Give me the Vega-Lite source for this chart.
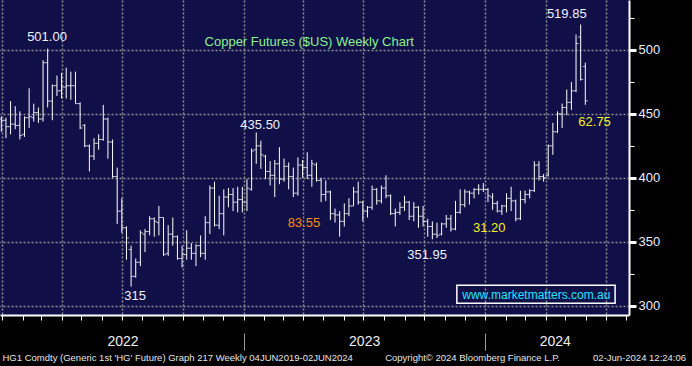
{
"$schema":"https://vega.github.io/schema/vega-lite/v6.json",
"width":629,"height":315,
"autosize":{"type":"none"},
"padding":{"left":0,"top":0,"right":63,"bottom":51},
"background":"#000000",
"view":{"fill":"#100f47","stroke":null},
"config":{"axis":{"labelFont":"Liberation Sans","title":null},"text":{"font":"Liberation Sans"}},
"datasets":{
"bars":[
{"d":"2021-12-31","o":446,"h":448,"l":436,"c":445},
{"d":"2022-01-07","o":445,"h":447,"l":431,"c":440},
{"d":"2022-01-14","o":440,"h":460,"l":434,"c":442},
{"d":"2022-01-21","o":442,"h":456,"l":438,"c":441},
{"d":"2022-01-28","o":441,"h":452,"l":430,"c":433},
{"d":"2022-02-04","o":434,"h":448,"l":432,"c":447},
{"d":"2022-02-11","o":447,"h":470,"l":439,"c":448},
{"d":"2022-02-18","o":447,"h":458,"l":444,"c":451},
{"d":"2022-02-25","o":451,"h":455,"l":443,"c":446},
{"d":"2022-03-04","o":446,"h":492,"l":444,"c":490},
{"d":"2022-03-11","o":490,"h":501,"l":455,"c":460},
{"d":"2022-03-18","o":460,"h":473,"l":445,"c":472},
{"d":"2022-03-25","o":472,"h":480,"l":464,"c":468},
{"d":"2022-04-01","o":468,"h":482,"l":462,"c":471},
{"d":"2022-04-08","o":471,"h":486,"l":462,"c":472},
{"d":"2022-04-15","o":472,"h":483,"l":461,"c":472},
{"d":"2022-04-22","o":472,"h":483,"l":458,"c":458},
{"d":"2022-04-29","o":458,"h":459,"l":438,"c":439},
{"d":"2022-05-06","o":441,"h":442,"l":424,"c":425},
{"d":"2022-05-13","o":425,"h":426,"l":405,"c":417},
{"d":"2022-05-20","o":417,"h":431,"l":414,"c":427},
{"d":"2022-05-27","o":427,"h":434,"l":422,"c":430},
{"d":"2022-06-03","o":430,"h":457,"l":429,"c":446},
{"d":"2022-06-10","o":446,"h":447,"l":415,"c":428},
{"d":"2022-06-17","o":428,"h":430,"l":400,"c":401},
{"d":"2022-06-24","o":401,"h":408,"l":364,"c":374},
{"d":"2022-07-01","o":374,"h":384,"l":357,"c":361},
{"d":"2022-07-08","o":361,"h":362,"l":336,"c":353},
{"d":"2022-07-15","o":344,"h":347,"l":315,"c":323},
{"d":"2022-07-22","o":323,"h":337,"l":322,"c":334},
{"d":"2022-07-29","o":334,"h":359,"l":331,"c":357},
{"d":"2022-08-05","o":356,"h":360,"l":342,"c":358},
{"d":"2022-08-12","o":358,"h":370,"l":355,"c":368},
{"d":"2022-08-19","o":368,"h":369,"l":354,"c":366},
{"d":"2022-08-26","o":365,"h":378,"l":355,"c":369},
{"d":"2022-09-02","o":369,"h":369,"l":339,"c":340},
{"d":"2022-09-09","o":341,"h":363,"l":339,"c":356},
{"d":"2022-09-16","o":356,"h":369,"l":347,"c":354},
{"d":"2022-09-23","o":354,"h":355,"l":336,"c":337},
{"d":"2022-09-30","o":337,"h":347,"l":330,"c":340},
{"d":"2022-10-07","o":340,"h":359,"l":336,"c":345},
{"d":"2022-10-14","o":345,"h":349,"l":336,"c":341},
{"d":"2022-10-21","o":341,"h":348,"l":331,"c":347},
{"d":"2022-10-28","o":347,"h":355,"l":338,"c":341},
{"d":"2022-11-04","o":341,"h":370,"l":336,"c":365},
{"d":"2022-11-11","o":365,"h":394,"l":356,"c":392},
{"d":"2022-11-18","o":392,"h":397,"l":362,"c":363},
{"d":"2022-11-25","o":363,"h":386,"l":360,"c":372},
{"d":"2022-12-02","o":372,"h":391,"l":355,"c":385},
{"d":"2022-12-09","o":385,"h":392,"l":377,"c":387},
{"d":"2022-12-16","o":387,"h":392,"l":374,"c":381},
{"d":"2022-12-23","o":381,"h":393,"l":373,"c":383},
{"d":"2022-12-30","o":383,"h":393,"l":373,"c":381},
{"d":"2023-01-06","o":381,"h":399,"l":374,"c":392},
{"d":"2023-01-13","o":391,"h":423,"l":390,"c":421},
{"d":"2023-01-20","o":422,"h":435.5,"l":411,"c":425},
{"d":"2023-01-27","o":425,"h":429,"l":407,"c":418},
{"d":"2023-02-03","o":417,"h":418,"l":399,"c":405},
{"d":"2023-02-10","o":405,"h":413,"l":394,"c":402},
{"d":"2023-02-17","o":402,"h":414,"l":385,"c":411},
{"d":"2023-02-24","o":411,"h":424,"l":395,"c":399},
{"d":"2023-03-03","o":399,"h":415,"l":397,"c":409},
{"d":"2023-03-10","o":409,"h":412,"l":391,"c":401},
{"d":"2023-03-17","o":401,"h":408,"l":385,"c":388},
{"d":"2023-03-24","o":388,"h":416,"l":386,"c":410},
{"d":"2023-03-31","o":410,"h":414,"l":400,"c":408},
{"d":"2023-04-07","o":408,"h":420,"l":399,"c":402},
{"d":"2023-04-14","o":402,"h":414,"l":393,"c":411},
{"d":"2023-04-21","o":410,"h":412,"l":397,"c":398},
{"d":"2023-04-28","o":398,"h":400,"l":381,"c":387},
{"d":"2023-05-05","o":387,"h":398,"l":382,"c":389},
{"d":"2023-05-12","o":389,"h":390,"l":367,"c":372},
{"d":"2023-05-19","o":372,"h":376,"l":365,"c":371},
{"d":"2023-05-26","o":371,"h":374,"l":354,"c":366},
{"d":"2023-06-02","o":366,"h":380,"l":362,"c":372},
{"d":"2023-06-09","o":372,"h":384,"l":370,"c":378},
{"d":"2023-06-16","o":378,"h":393,"l":378,"c":389},
{"d":"2023-06-23","o":389,"h":397,"l":379,"c":381},
{"d":"2023-06-30","o":381,"h":382,"l":366,"c":374},
{"d":"2023-07-07","o":374,"h":378,"l":369,"c":377},
{"d":"2023-07-14","o":377,"h":394,"l":375,"c":391},
{"d":"2023-07-21","o":391,"h":392,"l":379,"c":382},
{"d":"2023-07-28","o":382,"h":394,"l":380,"c":392},
{"d":"2023-08-04","o":392,"h":402,"l":384,"c":386},
{"d":"2023-08-11","o":386,"h":387,"l":371,"c":372},
{"d":"2023-08-18","o":372,"h":376,"l":362,"c":373},
{"d":"2023-08-25","o":373,"h":381,"l":371,"c":377},
{"d":"2023-09-01","o":377,"h":386,"l":374,"c":381},
{"d":"2023-09-08","o":381,"h":382,"l":367,"c":370},
{"d":"2023-09-15","o":370,"h":381,"l":366,"c":377},
{"d":"2023-09-22","o":377,"h":378,"l":361,"c":370},
{"d":"2023-09-29","o":370,"h":378,"l":362,"c":366},
{"d":"2023-10-06","o":366,"h":368,"l":354,"c":362},
{"d":"2023-10-13","o":362,"h":366,"l":351.95,"c":356},
{"d":"2023-10-20","o":356,"h":365,"l":353,"c":355},
{"d":"2023-10-27","o":356,"h":365,"l":355,"c":364},
{"d":"2023-11-03","o":364,"h":371,"l":361,"c":368},
{"d":"2023-11-10","o":368,"h":371,"l":358,"c":360},
{"d":"2023-11-17","o":360,"h":382,"l":359,"c":373},
{"d":"2023-11-24","o":373,"h":391,"l":372,"c":379},
{"d":"2023-12-01","o":379,"h":391,"l":377,"c":389},
{"d":"2023-12-08","o":389,"h":390,"l":379,"c":388},
{"d":"2023-12-15","o":388,"h":392,"l":384,"c":391},
{"d":"2023-12-22","o":391,"h":395,"l":387,"c":391},
{"d":"2023-12-29","o":391,"h":396,"l":389,"c":391},
{"d":"2024-01-05","o":391,"h":392,"l":381,"c":386},
{"d":"2024-01-12","o":385,"h":388,"l":375,"c":380},
{"d":"2024-01-19","o":380,"h":382,"l":373,"c":374},
{"d":"2024-01-26","o":374,"h":379,"l":371,"c":378},
{"d":"2024-02-02","o":378,"h":388,"l":373,"c":384},
{"d":"2024-02-09","o":384,"h":393,"l":374,"c":382},
{"d":"2024-02-16","o":382,"h":383,"l":366,"c":368},
{"d":"2024-02-23","o":368,"h":390,"l":367,"c":383},
{"d":"2024-03-01","o":383,"h":390,"l":380,"c":387},
{"d":"2024-03-08","o":387,"h":391,"l":384,"c":390},
{"d":"2024-03-15","o":390,"h":413,"l":389,"c":410},
{"d":"2024-03-22","o":410,"h":413,"l":398,"c":401},
{"d":"2024-03-29","o":401,"h":403,"l":397,"c":400},
{"d":"2024-04-05","o":402,"h":426,"l":401,"c":425},
{"d":"2024-04-12","o":425,"h":443,"l":418,"c":436},
{"d":"2024-04-19","o":436,"h":452,"l":435,"c":450},
{"d":"2024-04-26","o":450,"h":458,"l":439,"c":455},
{"d":"2024-05-03","o":455,"h":469,"l":449,"c":459},
{"d":"2024-05-10","o":459,"h":475,"l":453,"c":468},
{"d":"2024-05-17","o":468,"h":512,"l":467,"c":505},
{"d":"2024-05-24","o":510,"h":519.85,"l":476,"c":477},
{"d":"2024-05-31","o":487,"h":490,"l":457.1,"c":460.2}
],
"notes":[
{"d":"2022-03-10","p":510.2,"t":"501.00","k":"extreme"},
{"d":"2022-07-21","p":307.6,"t":"315","k":"extreme"},
{"d":"2023-01-26","p":441.3,"t":"435.50","k":"extreme"},
{"d":"2023-04-02","p":364.5,"t":"83.55","k":"swing"},
{"d":"2023-10-05","p":339.7,"t":"351.95","k":"extreme"},
{"d":"2024-01-07","p":360.6,"t":"31.20","k":"move"},
{"d":"2024-05-03","p":527.8,"t":"519.85","k":"extreme"},
{"d":"2024-06-14","p":443.9,"t":"62.75","k":"move"}
],
"heading":[{"d":"2023-04-10","p":506.5,"t":"Copper Futures ($US) Weekly Chart"}],
"site":[{"d":"2023-11-19","d2":"2024-07-15","dc":"2024-03-18","p":316,"p2":302,"pc":308.8,"t":"www.marketmatters.com.au"}]
},
"resolve":{"axis":{"x":"independent","y":"independent"}},
"layer":[
{"data":{"name":"bars"},
 "mark":{"type":"rule","color":"#ffffff","strokeWidth":1},
 "encoding":{
  "x":{"field":"d","type":"temporal","scale":{"type":"utc","domain":[{"year":2021,"month":12,"date":29,"utc":true},{"year":2024,"month":8,"date":5,"utc":true}],"nice":false},
   "axis":{"orient":"bottom","title":null,"values":[{"year":2022,"month":1,"date":1,"utc":true},{"year":2022,"month":4,"date":1,"utc":true},{"year":2022,"month":7,"date":1,"utc":true},{"year":2022,"month":10,"date":1,"utc":true},{"year":2023,"month":1,"date":1,"utc":true},{"year":2023,"month":4,"date":1,"utc":true},{"year":2023,"month":7,"date":1,"utc":true},{"year":2023,"month":10,"date":1,"utc":true},{"year":2024,"month":1,"date":1,"utc":true},{"year":2024,"month":4,"date":1,"utc":true},{"year":2024,"month":7,"date":1,"utc":true}],
    "grid":true,"gridColor":"#909090","gridDash":[2,2],"gridWidth":1.5,"ticks":false,"labels":false,"domain":false}},
  "y":{"field":"l","type":"quantitative","scale":{"domain":[292.8,539],"nice":false,"zero":false},
   "axis":{"orient":"right","title":null,"values":[300,350,400,450,500],"grid":true,"gridColor":"#909090","gridDash":[2,2],"gridWidth":1.5,
    "domain":true,"domainColor":"#ffffff","domainWidth":2,"ticks":true,"tickColor":"#ffffff","tickSize":7,"tickWidth":3,
    "labels":true,"labelColor":"#e8eeff","labelFontSize":13,"labelPadding":2}},
  "y2":{"field":"h"}}},
{"data":{"name":"bars"},
 "mark":{"type":"tick","orient":"horizontal","color":"#ffffff","size":2.5,"thickness":1,"xOffset":-1.25},
 "encoding":{
  "x":{"field":"d","type":"temporal","scale":{"type":"utc","domain":[{"year":2021,"month":12,"date":29,"utc":true},{"year":2024,"month":8,"date":5,"utc":true}],"nice":false},
   "axis":{"orient":"bottom","title":null,"tickCount":{"interval":"month","step":1},"grid":false,"labels":false,"domain":true,"domainColor":"#ffffff","domainWidth":2,"ticks":true,"tickColor":"#ffffff","tickSize":5,"tickWidth":1}},
  "y":{"field":"o","type":"quantitative","scale":{"domain":[292.8,539],"nice":false,"zero":false},
   "axis":{"orient":"right","title":null,"values":[325,375,425,475,525],"grid":false,"domain":false,"labels":false,"ticks":true,"tickColor":"#ffffff","tickSize":5,"tickWidth":1}}}},
{"data":{"name":"bars"},
 "mark":{"type":"tick","orient":"horizontal","color":"#ffffff","size":2.5,"thickness":1,"xOffset":1.25},
 "encoding":{
  "x":{"field":"d","type":"temporal","scale":{"type":"utc","domain":[{"year":2021,"month":12,"date":29,"utc":true},{"year":2024,"month":8,"date":5,"utc":true}],"nice":false},
   "axis":{"orient":"bottom","title":null,"values":[{"year":2022,"month":7,"date":2,"utc":true}],"labelExpr":"utcFormat(datum.value, '%Y')","grid":false,"ticks":false,"tickSize":0,"domain":false,"labels":true,"labelColor":"#eeeeee","labelFontSize":14,"labelAlign":"center","labelBaseline":"middle","labelPadding":26,"labelLimit":0,"labelFlush":false,"labelOverlap":false}},
  "y":{"field":"c","type":"quantitative","scale":{"domain":[292.8,539],"nice":false,"zero":false},"axis":null}}},
{"data":{"name":"notes"},
 "mark":{"type":"text","fontSize":13,"align":"center","baseline":"middle"},
 "encoding":{
  "x":{"field":"d","type":"temporal","scale":{"type":"utc","domain":[{"year":2021,"month":12,"date":29,"utc":true},{"year":2024,"month":8,"date":5,"utc":true}],"nice":false},
   "axis":{"orient":"bottom","title":null,"values":[{"year":2023,"month":1,"date":1,"utc":true},{"year":2024,"month":1,"date":1,"utc":true}],"grid":false,"labels":false,"domain":false,"ticks":true,"tickColor":"#9a9a9a","tickSize":17,"tickWidth":1,"offset":18}},
  "y":{"field":"p","type":"quantitative","scale":{"domain":[292.8,539],"nice":false,"zero":false},"axis":null},
  "text":{"field":"t"},
  "color":{"field":"k","type":"nominal","scale":{"domain":["extreme","swing","move"],"range":["#f0f2ff","#ff8c1a","#f2f22a"]},"legend":null}}},
{"data":{"name":"heading"},
 "mark":{"type":"text","fontSize":13,"align":"center","baseline":"middle","color":"#8ef08e"},
 "encoding":{
  "x":{"field":"d","type":"temporal","scale":{"type":"utc","domain":[{"year":2021,"month":12,"date":29,"utc":true},{"year":2024,"month":8,"date":5,"utc":true}],"nice":false},
   "axis":{"orient":"bottom","title":null,"values":[{"year":2022,"month":1,"date":1,"utc":true},{"year":2023,"month":8,"date":2,"utc":true},{"year":2024,"month":6,"date":11,"utc":true}],
    "labelExpr":"utcyear(datum.value)==2022 ? \"HG1 Comdty (Generic 1st 'HG' Future) Graph 217  Weekly 04JUN2019-02JUN2024\" : (utcyear(datum.value)==2023 ? \"Copyright\u00a9 2024 Bloomberg Finance L.P.\" : \"02-Jun-2024 12:24:06\")",
    "grid":false,"ticks":false,"tickSize":0,"domain":false,"labels":true,"labelAlign":"left","labelBaseline":"middle","labelColor":"#e6e6e6","labelFontSize":9.5,"labelPadding":42,"labelLimit":0,"labelFlush":false,"labelOverlap":false}},
  "y":{"field":"p","type":"quantitative","scale":{"domain":[292.8,539],"nice":false,"zero":false},"axis":null},
  "text":{"field":"t"}}},
{"data":{"name":"site"},
 "mark":{"type":"rect","fill":"transparent","stroke":"#ffffff","strokeWidth":1.5},
 "encoding":{
  "x":{"field":"d","type":"temporal","scale":{"type":"utc","domain":[{"year":2021,"month":12,"date":29,"utc":true},{"year":2024,"month":8,"date":5,"utc":true}],"nice":false},
   "axis":{"orient":"bottom","title":null,"values":[{"year":2023,"month":7,"date":2,"utc":true}],"labelExpr":"utcFormat(datum.value, '%Y')","grid":false,"ticks":false,"tickSize":0,"domain":false,"labels":true,"labelColor":"#eeeeee","labelFontSize":14,"labelAlign":"center","labelBaseline":"middle","labelPadding":26,"labelLimit":0,"labelFlush":false,"labelOverlap":false}},
  "x2":{"field":"d2"},
  "y":{"field":"p","type":"quantitative","scale":{"domain":[292.8,539],"nice":false,"zero":false},"axis":null},
  "y2":{"field":"p2"}}},
{"data":{"name":"site"},
 "mark":{"type":"text","fontSize":12,"align":"center","baseline":"middle","color":"#1ee6ff"},
 "encoding":{
  "x":{"field":"dc","type":"temporal","scale":{"type":"utc","domain":[{"year":2021,"month":12,"date":29,"utc":true},{"year":2024,"month":8,"date":5,"utc":true}],"nice":false},
   "axis":{"orient":"bottom","title":null,"values":[{"year":2024,"month":4,"date":15,"utc":true}],"labelExpr":"utcFormat(datum.value, '%Y')","grid":false,"ticks":false,"tickSize":0,"domain":false,"labels":true,"labelColor":"#eeeeee","labelFontSize":14,"labelAlign":"center","labelBaseline":"middle","labelPadding":26,"labelLimit":0,"labelFlush":false,"labelOverlap":false}},
  "y":{"field":"pc","type":"quantitative","scale":{"domain":[292.8,539],"nice":false,"zero":false},"axis":null},
  "text":{"field":"t"}}},
{"data":{"name":"bars"},
 "transform":[{"filter":"datum.d == '2024-05-31'"}],
 "mark":{"type":"point","shape":"M-1,0L-0.8,-0.28L1,-0.28L1,0.28L-0.8,0.28Z","size":3844,"filled":true,"fill":"#ffffff","strokeWidth":0,"opacity":1,"xOffset":76},
 "encoding":{
  "x":{"field":"d","type":"temporal","scale":{"type":"utc","domain":[{"year":2021,"month":12,"date":29,"utc":true},{"year":2024,"month":8,"date":5,"utc":true}],"nice":false},"axis":null},
  "y":{"field":"c","type":"quantitative","scale":{"domain":[292.8,539],"nice":false,"zero":false},"axis":null}}},
{"data":{"name":"bars"},
 "transform":[{"filter":"datum.d == '2024-05-31'"}],
 "mark":{"type":"text","fontSize":12,"align":"center","baseline":"middle","color":"#000000","xOffset":81},
 "encoding":{
  "x":{"field":"d","type":"temporal","scale":{"type":"utc","domain":[{"year":2021,"month":12,"date":29,"utc":true},{"year":2024,"month":8,"date":5,"utc":true}],"nice":false},"axis":null},
  "y":{"field":"c","type":"quantitative","scale":{"domain":[292.8,539],"nice":false,"zero":false},"axis":null},
  "text":{"field":"c","type":"quantitative","format":".4f"}}}
]
}
